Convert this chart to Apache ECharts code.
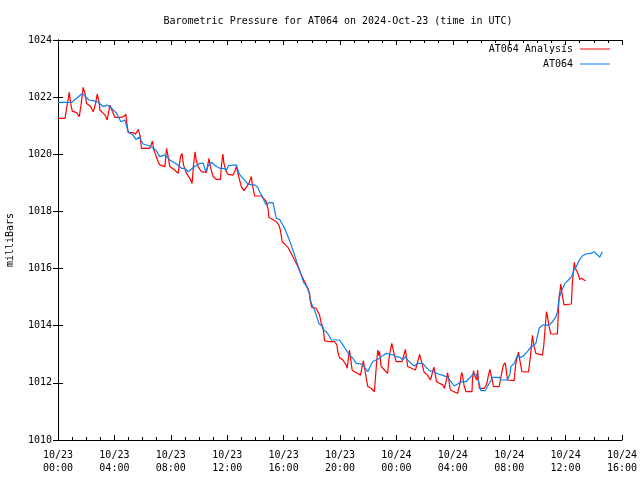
<!DOCTYPE html>
<html>
<head>
<meta charset="utf-8">
<script src="https://cdn.jsdelivr.net/npm/echarts@6/dist/echarts.min.js"></script>
<style>html,body{margin:0;padding:0;background:#fff}#c{width:640px;height:480px}</style>
</head>
<body>
<div id="c"></div>
<script>
// Hours since 2024-10-23 00:00 UTC
var redHours = [0.0,0.5,0.61,0.8,0.9,1.01,1.32,1.51,1.63,1.79,1.91,2.03,2.31,2.5,2.67,2.78,2.93,2.97,3.33,3.49,3.68,3.8,4.04,4.39,4.51,4.67,4.81,4.91,4.98,5.33,5.5,5.69,5.81,5.92,6.51,6.7,6.8,7.1,7.22,7.58,7.7,7.81,7.93,8.28,8.52,8.69,8.8,8.9,9.11,9.35,9.51,9.6,9.72,9.8,9.93,10.17,10.53,10.64,10.71,10.8,11.0,11.23,11.52,11.59,11.65,11.7,11.76,11.9,12.06,12.41,12.53,12.65,12.76,12.88,13.0,13.19,13.54,13.71,13.8,13.95,14.42,14.65,14.77,14.89,14.96,15.24,15.48,15.67,15.77,15.9,16.14,16.31,16.54,16.78,17.01,17.25,17.49,17.72,17.84,17.91,18.0,18.31,18.55,18.67,18.78,18.85,18.9,19.26,19.61,19.78,19.84,19.96,20.2,20.44,20.51,20.67,20.74,20.86,21.03,21.26,21.45,21.57,21.66,21.85,21.97,22.21,22.44,22.51,22.61,22.68,22.76,22.8,22.92,23.15,23.38,23.46,23.58,23.67,23.86,23.98,24.4,24.64,24.8,24.92,25.35,25.65,25.87,25.95,26.2,26.42,26.6,26.66,26.85,26.93,27.28,27.4,27.55,27.63,27.72,27.82,28.1,28.34,28.41,28.52,28.62,28.7,28.8,28.94,29.36,29.4,29.47,29.55,29.69,29.76,29.82,29.88,30.23,30.4,30.53,30.63,30.75,30.89,31.29,31.45,31.58,31.72,31.8,31.88,32.35,32.45,32.52,32.66,32.75,32.9,33.37,33.5,33.58,33.65,33.75,33.89,34.36,34.45,34.53,34.64,34.72,34.83,34.95,35.42,35.47,35.54,35.6,35.66,35.73,35.78,35.89,36.41,36.48,36.55,36.62,36.7,36.78,36.9,37.0,37.15,37.31,37.43];
var redValues = [1021.26,1021.26,1021.61,1022.17,1021.78,1021.51,1021.46,1021.32,1021.72,1022.34,1022.13,1021.78,1021.67,1021.49,1021.78,1022.11,1021.78,1021.55,1021.38,1021.2,1021.72,1021.57,1021.29,1021.29,1021.22,1021.32,1021.41,1020.97,1020.76,1020.76,1020.7,1020.87,1020.67,1020.21,1020.21,1020.46,1020.15,1019.74,1019.63,1019.57,1020.21,1019.92,1019.57,1019.45,1019.33,1019.92,1020.03,1019.63,1019.33,1019.16,1018.98,1019.57,1020.09,1019.8,1019.57,1019.39,1019.37,1019.68,1019.86,1019.57,1019.22,1019.12,1019.12,1019.6,1019.83,1020.01,1019.7,1019.43,1019.3,1019.27,1019.4,1019.57,1019.35,1019.1,1018.87,1018.73,1018.98,1019.22,1018.9,1018.54,1018.54,1018.42,1018.34,1018.11,1017.79,1017.72,1017.64,1017.52,1017.35,1016.94,1016.82,1016.74,1016.53,1016.3,1016.07,1015.78,1015.54,1015.31,1015.13,1014.84,1014.64,1014.61,1014.37,1014.08,1013.97,1013.73,1013.48,1013.44,1013.44,1013.33,1013.09,1012.89,1012.8,1012.62,1012.51,1013.15,1012.92,1012.45,1012.39,1012.33,1012.27,1012.57,1012.78,1012.19,1011.87,1011.81,1011.69,1011.63,1012.8,1013.15,1012.95,1013.1,1012.57,1012.45,1012.33,1012.8,1013.15,1013.38,1012.97,1012.74,1012.74,1013.17,1012.57,1012.51,1012.45,1013.0,1012.57,1012.39,1012.27,1012.1,1012.45,1012.55,1012.04,1011.98,1011.93,1011.81,1012.1,1012.36,1012.1,1011.75,1011.69,1011.63,1011.58,1012.0,1012.36,1012.25,1011.9,1011.69,1011.69,1012.15,1012.43,1012.25,1012.1,1012.45,1012.1,1011.81,1011.81,1011.95,1012.27,1012.47,1012.2,1011.87,1011.87,1012.3,1012.62,1012.7,1012.4,1012.1,1012.08,1012.6,1012.8,1013.08,1012.8,1012.39,1012.38,1012.9,1013.33,1013.66,1013.3,1013.03,1012.97,1013.3,1013.8,1014.49,1014.3,1013.97,1013.71,1013.71,1014.3,1015.02,1015.2,1015.46,1015.2,1015.02,1014.73,1014.76,1015.5,1015.89,1016.22,1016.0,1016.05,1015.8,1015.62,1015.66,1015.6,1015.58];
var blueHours = [0.0,0.97,1.3,1.72,2.19,2.5,2.85,3.2,3.5,3.8,4.16,4.46,4.74,4.98,5.33,5.52,5.76,6.04,6.51,6.94,7.22,7.58,7.93,8.4,8.76,8.99,9.22,9.7,10.05,10.3,10.48,10.65,10.88,11.23,11.47,11.7,11.94,12.1,12.23,12.65,12.84,13.0,13.19,13.47,13.7,13.95,14.18,14.3,14.49,14.65,14.77,15.01,15.24,15.36,15.48,15.72,15.85,16.07,16.31,16.54,16.78,17.01,17.25,17.42,17.6,17.79,17.89,18.03,18.19,18.36,18.5,18.67,18.85,19.02,19.21,19.38,19.96,20.2,20.44,20.67,20.91,21.15,21.5,21.65,21.8,21.97,22.14,22.32,22.56,22.8,23.08,23.27,23.5,23.7,23.98,24.26,24.45,24.64,24.8,25.04,25.27,25.5,25.87,26.1,26.34,26.69,26.93,27.28,27.63,27.87,28.1,28.34,28.58,28.94,29.17,29.45,29.69,29.89,29.99,30.3,30.46,30.65,30.82,31.3,31.41,31.88,32.05,32.12,32.35,32.59,32.83,33.06,33.3,33.46,33.6,33.89,34.12,34.36,34.83,35.07,35.31,35.42,35.54,35.73,35.96,36.2,36.43,36.6,36.76,36.95,37.19,37.43,37.79,38.02,38.42,38.6];
var blueValues = [1021.82,1021.82,1021.95,1022.13,1021.9,1021.88,1021.82,1021.67,1021.72,1021.61,1021.43,1021.14,1021.2,1020.79,1020.67,1020.52,1020.6,1020.36,1020.29,1020.15,1019.92,1019.98,1019.8,1019.66,1019.51,1019.51,1019.39,1019.57,1019.68,1019.68,1019.39,1019.6,1019.72,1019.57,1019.51,1019.51,1019.45,1019.6,1019.63,1019.63,1019.33,1019.22,1019.12,1018.96,1018.93,1018.93,1018.84,1018.69,1018.52,1018.34,1018.23,1018.31,1018.31,1018.05,1017.76,1017.72,1017.68,1017.41,1017.12,1016.82,1016.47,1016.12,1015.78,1015.52,1015.4,1015.19,1014.9,1014.72,1014.55,1014.31,1014.08,1014.02,1013.85,1013.79,1013.67,1013.5,1013.5,1013.33,1013.15,1012.97,1012.86,1012.68,1012.66,1012.6,1012.51,1012.39,1012.57,1012.74,1012.8,1012.86,1012.97,1013.03,1013.0,1012.99,1012.92,1012.89,1012.8,1012.92,1012.8,1012.68,1012.59,1012.68,1012.68,1012.55,1012.43,1012.39,1012.31,1012.27,1012.19,1012.04,1011.89,1011.96,1012.04,1012.04,1012.16,1012.31,1012.28,1011.93,1011.73,1011.73,1011.87,1012.04,1012.19,1012.19,1012.1,1012.1,1012.3,1012.57,1012.68,1012.97,1012.89,1012.97,1013.1,1013.21,1013.2,1013.38,1013.91,1014.02,1014.02,1014.14,1014.31,1014.49,1014.96,1015.25,1015.48,1015.6,1015.72,1015.95,1016.07,1016.28,1016.44,1016.51,1016.53,1016.59,1016.4,1016.59];
var yTicks = [1010,1012,1014,1016,1018,1020,1022,1024];
var seriesNames = ['AT064 Analysis','AT064'];
var titleText = 'Barometric Pressure for AT064 on 2024-Oct-23 (time in UTC)';
var yName = 'milliBars';

function pairs(h, v){ var out=[]; for(var i=0;i<h.length;i++) out.push([h[i], v[i]]); return out; }
function pad(n){ return (n<10?'0':'')+n; }
function xLabel(h){ var day = h < 24 ? '10/23' : '10/24'; return day + '\n' + pad(h % 24) + ':00'; }
function yLabel(v){ return String(v); }

var FONT = 'DejaVu Sans Mono';
var black = '#000';
var xBase = {
  type:'value', min:0, max:40, interval:4,
  axisLine:{show:true, lineStyle:{color:black, width:1}},
  axisTick:{show:true, inside:true, length:5, lineStyle:{color:black}},
  minorTick:{show:true, splitNumber:4, length:3, lineStyle:{color:black}},
  splitLine:{show:false}, minorSplitLine:{show:false}
};
var yBase = {
  type:'value', min:yTicks[0], max:yTicks[yTicks.length-1], interval:2,
  axisLine:{show:true, lineStyle:{color:black, width:1}},
  axisTick:{show:true, inside:true, length:5, lineStyle:{color:black}},
  splitLine:{show:false}
};

var chart = echarts.init(document.getElementById('c'), null, {renderer:'canvas'});
chart.setOption({
  animation:false,
  backgroundColor:'#fff',
  title:{text:titleText, left:333, textAlign:'center', top:11,
    textStyle:{fontFamily:FONT, fontSize:10, fontWeight:'normal', color:black}},
  legend:{
    data:seriesNames, orient:'vertical', right:30, top:44, align:'right', padding:0,
    itemWidth:30, itemHeight:1, itemGap:5, icon:'rect',
    textStyle:{fontFamily:FONT, fontSize:10, color:black, padding:[0,2,0,0]}
  },
  grid:{left:58, right:18, top:40, bottom:40, containLabel:false, outerBoundsMode:'none'},
  xAxis:[
    Object.assign({}, xBase, {position:'bottom',
      axisLabel:{show:true, formatter:xLabel, fontFamily:FONT, fontSize:10, color:black, lineHeight:13, margin:9}}),
    Object.assign({}, xBase, {position:'top', axisLabel:{show:false}})
  ],
  yAxis:[
    Object.assign({}, yBase, {position:'left', name:yName, nameLocation:'middle', nameRotate:90, nameGap:43,
      nameTextStyle:{fontFamily:FONT, fontSize:10, color:black},
      axisLabel:{show:true, formatter:yLabel, fontFamily:FONT, fontSize:10, color:black, margin:6}}),
    Object.assign({}, yBase, {position:'right', axisLabel:{show:false}})
  ],
  series:[
    {name:seriesNames[0], type:'line', data:pairs(redHours, redValues), symbol:'none',
     lineStyle:{color:'#ff0000', width:1.2}, itemStyle:{color:'#ff0000'}},
    {name:seriesNames[1], type:'line', data:pairs(blueHours, blueValues), symbol:'none',
     lineStyle:{color:'#0a7ff0', width:1.2}, itemStyle:{color:'#0a7ff0'}}
  ]
});
</script>
</body>
</html>
